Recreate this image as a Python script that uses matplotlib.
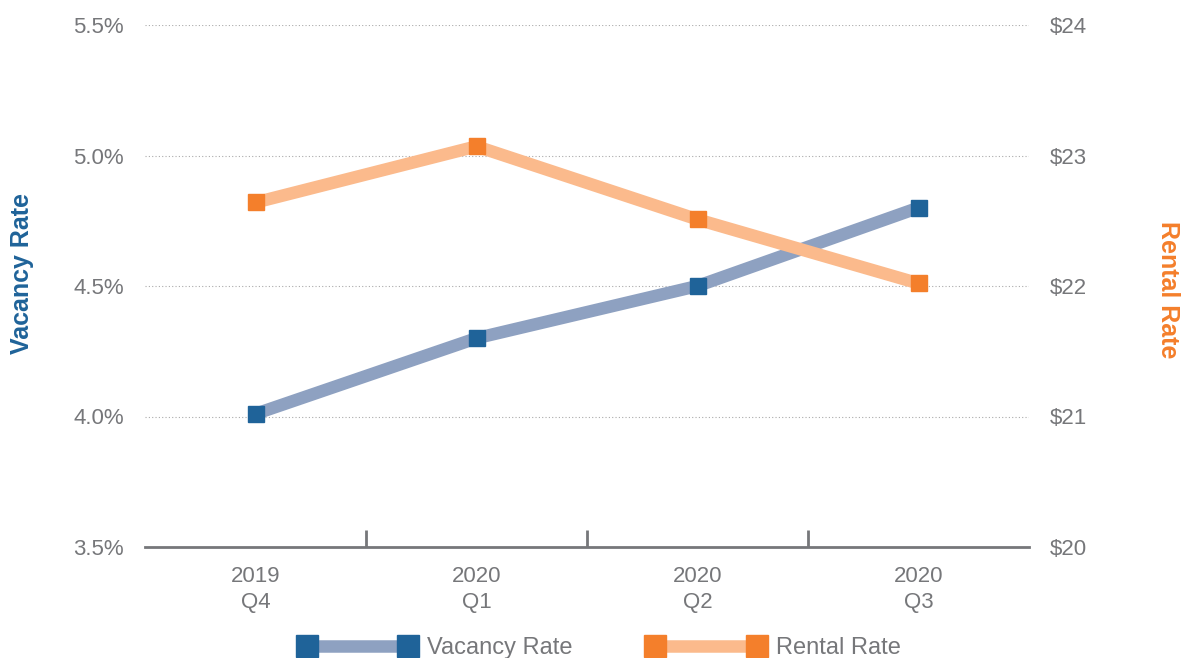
import matplotlib.pyplot as plt
from matplotlib.ticker import FuncFormatter

quarters = ["2019\nQ4", "2020\nQ1", "2020\nQ2", "2020\nQ3"]
vacancy = [4.01, 4.30, 4.50, 4.80]
rental = [22.64, 23.07, 22.51, 22.02]

blue_dark = "#1f6399"
blue_line = "#8ea1c1"
orange_dark = "#f47f2b"
orange_line = "#fbba8c"
gray = "#76777a"

plt.rcParams["font.family"] = ["Liberation Sans", "DejaVu Sans"]

fig = plt.figure(figsize=(11.85, 6.58), dpi=100)
ax = fig.add_axes([145 / 1185, 1 - 547 / 658, 884 / 1185, 522 / 658])
ax2 = ax.twinx()

x = list(range(len(quarters)))
ax.plot(x, vacancy, color=blue_line, lw=9, marker="s", markersize=12,
        markerfacecolor=blue_dark, markeredgecolor=blue_dark, label="Vacancy Rate",
        solid_capstyle="butt", zorder=3)
ax2.plot(x, rental, color=orange_line, lw=9, marker="s", markersize=12,
         markerfacecolor=orange_dark, markeredgecolor=orange_dark, label="Rental Rate",
         solid_capstyle="butt", zorder=3)

ax.set_xlim(-0.5, 3.5)
ax.set_ylim(3.5, 5.5)
ax2.set_ylim(20, 24)
ax.set_yticks([3.5, 4.0, 4.5, 5.0, 5.5])
ax2.set_yticks([20, 21, 22, 23, 24])
ax.yaxis.set_major_formatter(FuncFormatter(lambda v, p: f"{v:.1f}%"))
ax2.yaxis.set_major_formatter(FuncFormatter(lambda v, p: f"${v:.0f}"))

ax.set_xticks([0.5, 1.5, 2.5])
ax.set_xticks(x, minor=True)
ax.set_xticklabels([])
ax.set_xticklabels(quarters, minor=True, linespacing=1.3)
ax.tick_params(axis="x", which="major", direction="in", length=12, width=2, color=gray)
ax.tick_params(axis="x", which="minor", length=0, pad=14, labelsize=16, labelcolor=gray)
ax.tick_params(axis="y", length=0, pad=15, labelsize=16, labelcolor=gray)
ax2.tick_params(axis="y", length=0, pad=15, labelsize=16, labelcolor=gray)

ax.grid(axis="y", color="#aaaaaa", linestyle=(0, (1, 2)), linewidth=0.8)
ax.set_axisbelow(True)

for a in (ax, ax2):
    for side in ("top", "left", "right"):
        a.spines[side].set_visible(False)
ax2.spines["bottom"].set_visible(False)
ax.spines["bottom"].set_color(gray)
ax.spines["bottom"].set_linewidth(2)

fig.text(22 / 1185, 1 - 274 / 658, "Vacancy Rate", rotation=90, color=blue_dark,
         fontsize=18, fontweight="bold", ha="center", va="center")
fig.text(1168 / 1185, 1 - 290 / 658, "Rental Rate", rotation=-90, color=orange_dark,
         fontsize=18, fontweight="bold", ha="center", va="center")

h1, l1 = ax.get_legend_handles_labels()
h2, l2 = ax2.get_legend_handles_labels()
fig.legend(h1 + h2, l1 + l2, loc="center", bbox_to_anchor=(600 / 1185, 1 - 648 / 658),
           ncol=2, frameon=False, numpoints=2, handlelength=4.9, columnspacing=3.2,
           fontsize=17, labelcolor=gray, handletextpad=0.5, markerscale=1.3)

fig.savefig("out.png", dpi=100)
